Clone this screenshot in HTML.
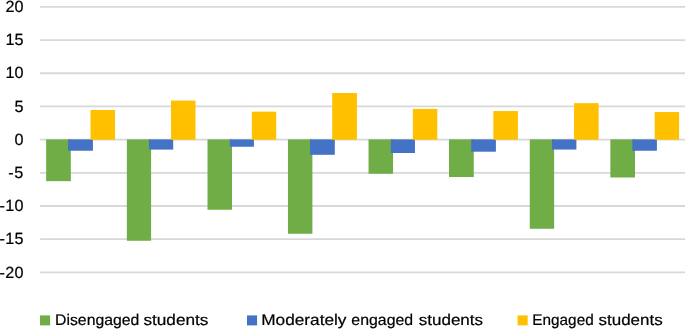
<!DOCTYPE html>
<html><head><meta charset="utf-8"><title>chart</title>
<style>
html,body{margin:0;padding:0;background:#fff;}
body{width:685px;height:329px;overflow:hidden;}
svg{display:block;will-change:transform;}
text{font-family:"Liberation Sans",sans-serif;fill:#000;stroke:#000;stroke-width:0.2px;text-rendering:geometricPrecision;}
</style></head><body>
<svg width="685" height="329" viewBox="0 0 685 329">
<rect x="0" y="0" width="685" height="329" fill="#ffffff"/>
<line x1="40.10" y1="6.84" x2="685" y2="6.84" stroke="#D8D8D8" stroke-width="1.8"/>
<line x1="40.10" y1="40.03" x2="685" y2="40.03" stroke="#D8D8D8" stroke-width="1.8"/>
<line x1="40.10" y1="73.23" x2="685" y2="73.23" stroke="#D8D8D8" stroke-width="1.8"/>
<line x1="40.10" y1="106.43" x2="685" y2="106.43" stroke="#D8D8D8" stroke-width="1.8"/>
<line x1="40.10" y1="139.62" x2="685" y2="139.62" stroke="#D8D8D8" stroke-width="1.8"/>
<line x1="40.10" y1="172.81" x2="685" y2="172.81" stroke="#D8D8D8" stroke-width="1.8"/>
<line x1="40.10" y1="206.01" x2="685" y2="206.01" stroke="#D8D8D8" stroke-width="1.8"/>
<line x1="40.10" y1="239.21" x2="685" y2="239.21" stroke="#D8D8D8" stroke-width="1.8"/>
<line x1="40.10" y1="272.40" x2="685" y2="272.40" stroke="#D8D8D8" stroke-width="1.8"/>
<rect x="46.15" y="139.40" width="24.67" height="41.75" fill="#70AD47"/>
<rect x="68.08" y="139.40" width="24.87" height="11.33" fill="#4472C4"/>
<rect x="90.50" y="110.00" width="24.55" height="29.70" fill="#FFC000"/>
<rect x="126.85" y="139.40" width="24.25" height="101.35" fill="#70AD47"/>
<rect x="148.95" y="139.40" width="24.25" height="10.20" fill="#4472C4"/>
<rect x="171.00" y="100.54" width="24.50" height="39.16" fill="#FFC000"/>
<rect x="207.50" y="139.40" width="24.50" height="70.35" fill="#70AD47"/>
<rect x="229.80" y="139.40" width="24.15" height="7.35" fill="#4472C4"/>
<rect x="251.85" y="111.64" width="24.35" height="28.06" fill="#FFC000"/>
<rect x="287.95" y="139.40" width="24.45" height="94.35" fill="#70AD47"/>
<rect x="310.00" y="139.40" width="24.80" height="15.40" fill="#4472C4"/>
<rect x="332.20" y="93.00" width="24.75" height="46.70" fill="#FFC000"/>
<rect x="368.55" y="139.40" width="24.50" height="34.35" fill="#70AD47"/>
<rect x="390.85" y="139.40" width="24.10" height="13.60" fill="#4472C4"/>
<rect x="412.85" y="108.90" width="24.45" height="30.80" fill="#FFC000"/>
<rect x="449.00" y="139.40" width="24.75" height="37.65" fill="#70AD47"/>
<rect x="471.20" y="139.40" width="24.70" height="12.30" fill="#4472C4"/>
<rect x="493.35" y="111.05" width="24.55" height="28.65" fill="#FFC000"/>
<rect x="529.75" y="139.40" width="24.40" height="89.35" fill="#70AD47"/>
<rect x="551.95" y="139.40" width="24.45" height="10.15" fill="#4472C4"/>
<rect x="574.05" y="103.15" width="24.55" height="36.55" fill="#FFC000"/>
<rect x="610.35" y="139.40" width="24.65" height="38.10" fill="#70AD47"/>
<rect x="632.30" y="139.40" width="24.60" height="11.35" fill="#4472C4"/>
<rect x="654.70" y="112.05" width="24.40" height="27.65" fill="#FFC000"/>
<text x="23.6" y="12" font-size="16.2" text-anchor="end">20</text>
<text x="23.6" y="45" font-size="16.2" text-anchor="end">15</text>
<text x="23.6" y="78" font-size="16.2" text-anchor="end">10</text>
<text x="23.6" y="112" font-size="16.2" text-anchor="end">5</text>
<text x="23.6" y="145" font-size="16.2" text-anchor="end">0</text>
<text x="23.3" y="178" font-size="16.2" text-anchor="end" textLength="15.1" lengthAdjust="spacing">-5</text>
<text x="23.5" y="211" font-size="16.2" text-anchor="end" textLength="24.1" lengthAdjust="spacing">-10</text>
<text x="23.5" y="244" font-size="16.2" text-anchor="end" textLength="24.1" lengthAdjust="spacing">-15</text>
<text x="23.5" y="278" font-size="16.2" text-anchor="end" textLength="24.1" lengthAdjust="spacing">-20</text>
<rect x="40.00" y="315.4" width="10.1" height="10" fill="#70AD47"/>
<rect x="247.00" y="315.4" width="10.1" height="10" fill="#4472C4"/>
<rect x="517.60" y="315.4" width="10.1" height="10" fill="#FFC000"/>
<text x="55.00" y="325.20" font-size="15.4" textLength="84.40" lengthAdjust="spacingAndGlyphs">Disengaged</text>
<text x="143.40" y="325.20" font-size="15.4" textLength="65.10" lengthAdjust="spacingAndGlyphs">students</text>
<text x="261.20" y="325.20" font-size="15.4" textLength="85.30" lengthAdjust="spacingAndGlyphs">Moderately</text>
<text x="351.30" y="325.20" font-size="15.4" textLength="61.90" lengthAdjust="spacingAndGlyphs">engaged</text>
<text x="418.70" y="325.20" font-size="15.4" textLength="64.40" lengthAdjust="spacingAndGlyphs">students</text>
<text x="532.30" y="325.20" font-size="15.4" textLength="61.40" lengthAdjust="spacingAndGlyphs">Engaged</text>
<text x="598.50" y="325.20" font-size="15.4" textLength="64.20" lengthAdjust="spacingAndGlyphs">students</text>
</svg>
</body></html>
